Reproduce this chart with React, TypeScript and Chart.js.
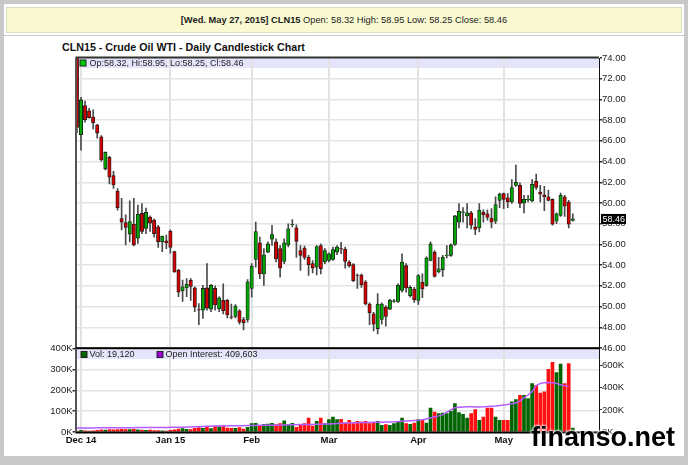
import React, { useEffect, useRef } from 'react';
import { Chart, registerables } from 'chart.js';

Chart.register(...registerables);

const FONT_FAMILY = '"Liberation Sans", Arial, sans-serif';

const lastDateLabel = '[Wed. May 27, 2015]';
const symbol = 'CLN15';
const chartTitle = 'CLN15 - Crude Oil WTI - Daily Candlestick Chart';
const watermark = 'finanso.net';

// month start positions (trading-day index) and their labels
const monthTickIndex = [1, 23, 43, 62, 84, 105];
const monthTickLabels = ['Dec 14', 'Jan 15', 'Feb', 'Mar', 'Apr', 'May'];
const priceTicks = [46, 48, 50, 52, 54, 56, 58, 60, 62, 64, 66, 68, 70, 72, 74];
const volumeTicksK = [0, 100, 200, 300, 400];
const oiTicksK = [0, 200, 400, 600];

const X_MIN = -0.1;
const X_MAX = 128.45;
const PRICE_MIN = 46;
const PRICE_MAX = 74;
const VOL_MAX_K = 400;
const OI_MAX_K = 756;

// Nov 28 2014 .. May 27 2015 daily OHLC
const opens = [
  75.60, 66.60, 69.40, 68.90, 68.30, 67.55, 66.40, 63.30, 64.40, 62.65,
  61.15, 58.50, 58.10, 57.00, 57.95, 56.60, 59.00, 57.55, 58.65, 58.35,
  57.70, 56.25, 56.35, 57.30, 55.30, 53.50, 51.50, 51.80, 52.55, 51.80,
  49.70, 49.65, 51.80, 49.75, 51.75, 49.80, 50.60, 50.60, 49.00, 49.05,
  49.60, 48.75, 48.75, 51.75, 54.55, 56.15, 53.15, 55.25, 56.50, 56.25,
  55.60, 54.35, 55.95, 57.90, 57.60, 55.40, 55.65, 54.75, 54.15, 53.80,
  55.90, 54.30, 54.45, 54.55, 55.25, 55.60, 55.55, 54.30, 54.05, 53.05,
  53.05, 52.40, 50.25, 49.30, 47.85, 48.75, 49.95, 49.75, 50.50, 50.50,
  51.55, 53.95, 51.05, 51.70, 50.60, 52.35, 52.05, 54.45, 55.25, 53.35,
  53.55, 54.90, 54.95, 56.00, 58.15, 59.10, 58.75, 59.05, 57.70, 57.60,
  59.10, 58.95, 58.55, 58.25, 60.25, 60.90, 60.50, 60.10, 61.70, 61.70,
  60.00, 60.30, 60.20, 62.10, 61.05, 60.80, 60.60, 60.35, 58.25, 58.80,
  60.60, 60.10, 58.32,
];
const highs = [
  75.80, 70.20, 69.85, 69.15, 69.00, 67.60, 66.50, 64.95, 64.50, 63.05,
  61.40, 60.45, 58.85, 60.20, 60.45, 59.80, 59.95, 59.50, 58.75, 58.45,
  57.85, 56.80, 56.90, 57.40, 55.35, 53.60, 52.55, 52.70, 52.70, 51.90,
  50.30, 52.05, 54.15, 52.15, 52.00, 50.95, 52.20, 50.70, 50.25, 50.20,
  49.70, 48.95, 52.60, 54.15, 58.15, 56.70, 55.60, 56.25, 57.85, 56.55,
  55.90, 56.55, 58.00, 58.40, 57.90, 55.90, 55.85, 54.95, 54.45, 55.90,
  56.05, 55.60, 55.20, 55.75, 55.90, 56.20, 55.75, 54.45, 54.15, 53.15,
  53.15, 52.50, 50.35, 49.45, 51.25, 50.35, 50.10, 50.70, 50.70, 52.20,
  55.10, 54.15, 52.00, 51.85, 53.10, 53.15, 54.80, 56.25, 55.40, 54.75,
  54.95, 55.90, 56.05, 58.80, 59.95, 59.55, 59.95, 59.20, 58.50, 59.95,
  59.35, 59.35, 59.45, 60.60, 60.95, 60.95, 60.90, 62.25, 63.65, 61.95,
  60.75, 60.75, 62.25, 62.80, 61.70, 61.60, 61.25, 60.40, 59.05, 60.95,
  60.75, 60.25, 58.95,
];
const lows = [
  66.80, 65.10, 67.80, 68.20, 67.15, 66.25, 64.05, 63.20, 61.85, 61.40,
  59.30, 57.40, 55.95, 56.25, 55.85, 56.10, 57.05, 57.05, 57.25, 56.70,
  55.70, 55.30, 55.60, 55.15, 53.30, 50.95, 50.50, 50.95, 50.60, 49.50,
  48.25, 48.85, 49.65, 49.50, 49.65, 49.50, 49.30, 48.90, 48.80, 48.90,
  48.30, 47.75, 48.50, 50.90, 53.80, 52.70, 52.05, 55.20, 55.90, 54.30,
  52.85, 54.15, 55.75, 57.70, 54.75, 53.50, 54.55, 53.00, 53.25, 53.05,
  53.15, 54.15, 54.30, 54.45, 55.00, 55.10, 53.70, 53.80, 52.40, 51.75,
  51.85, 50.15, 48.25, 47.65, 47.35, 48.30, 48.10, 49.70, 50.40, 50.40,
  51.40, 51.40, 50.90, 50.40, 50.20, 50.85, 51.95, 54.40, 52.85, 53.25,
  52.90, 54.70, 54.85, 55.90, 57.60, 58.15, 57.60, 57.50, 56.95, 57.20,
  58.15, 58.35, 57.60, 58.00, 59.55, 59.45, 59.55, 59.95, 61.60, 59.55,
  59.05, 60.10, 60.10, 61.30, 60.10, 59.25, 60.20, 57.85, 58.00, 58.70,
  58.70, 57.60, 58.25,
];
const closes = [
  67.30, 69.95, 68.05, 68.25, 67.75, 66.75, 64.15, 64.90, 62.50, 61.75,
  59.55, 58.15, 57.65, 58.20, 55.95, 58.90, 57.25, 59.10, 58.05, 57.05,
  56.25, 56.80, 56.15, 55.70, 53.35, 51.40, 51.90, 52.15, 51.95, 49.95,
  49.65, 51.75, 49.85, 52.05, 50.15, 50.85, 49.60, 49.20, 48.95, 50.05,
  48.50, 48.45, 52.40, 53.90, 57.25, 53.15, 55.00, 56.05, 56.95, 54.60,
  53.70, 56.15, 57.50, 57.95, 56.30, 54.95, 54.75, 54.05, 53.70, 55.80,
  53.65, 55.40, 55.10, 55.50, 55.75, 55.55, 54.35, 53.95, 52.50, 53.00,
  52.10, 50.25, 49.40, 48.30, 50.25, 50.25, 49.05, 50.60, 50.55, 52.05,
  54.30, 51.80, 51.85, 50.65, 53.00, 51.70, 54.70, 56.05, 52.90, 53.65,
  54.75, 54.95, 55.95, 58.75, 59.20, 59.15, 59.05, 57.85, 57.45, 59.30,
  58.85, 58.60, 58.15, 59.85, 60.85, 60.35, 60.10, 61.50, 62.00, 59.95,
  60.35, 60.35, 61.80, 61.50, 60.85, 60.60, 60.25, 57.95, 58.95, 60.75,
  59.70, 57.95, 58.46,
];
// daily volume, thousands of contracts
const volumeK = [
  5, 8, 6, 5, 6, 8, 10, 9, 11, 10,
  12, 13, 11, 12, 13, 10, 9, 8, 9, 7,
  7, 6, 5, 8, 10, 14, 16, 13, 12, 18,
  21, 17, 24, 16, 28, 26, 29, 19, 17, 18,
  21, 14, 22, 40, 41, 30, 37, 38, 42, 36,
  40, 53, 35, 42, 22, 37, 40, 67, 28, 51,
  67, 40, 59, 72, 60, 61, 43, 56, 40, 51,
  48, 51, 40, 43, 51, 32, 35, 32, 40, 48,
  67, 40, 37, 43, 59, 56, 43, 115, 96, 88,
  91, 88, 99, 136, 93, 85, 67, 88, 107, 56,
  72, 115, 115, 72, 56, 56, 56, 144, 155, 176,
  176, 160, 232, 224, 187, 192, 300, 334, 285, 325,
  232, 328, 19.12,
];
// open interest, thousands of contracts
const openInterestK = [
  36, 36, 37, 37, 37, 38, 38, 38, 38, 39,
  39, 39, 39, 39, 39, 40, 40, 40, 40, 41,
  41, 41, 41, 42, 42, 43, 44, 45, 46, 47,
  48, 50, 51, 52, 54, 55, 55, 56, 56, 57,
  57, 57, 58, 58, 59, 60, 60, 61, 62, 62,
  63, 64, 65, 66, 66, 67, 67, 68, 69, 70,
  71, 72, 73, 75, 77, 80, 81, 82, 83, 84,
  85, 86, 87, 88, 88, 89, 90, 91, 92, 94,
  97, 100, 102, 104, 106, 110, 118, 126, 138, 146,
  155, 180, 200, 220, 225, 227, 228, 228, 227, 227,
  228, 230, 233, 236, 240, 245, 250, 256, 265, 280,
  310, 335, 365, 420, 440, 447, 448, 445, 440, 428,
  420, 409.603, null,
];

Chart.defaults.font.family = FONT_FAMILY;
Chart.defaults.font.size = 9;
Chart.defaults.color = '#222';

const UP_COLOR = '#00a400';
const DOWN_COLOR = '#cc0000';
const VOL_UP = '#006400';
const VOL_DOWN = '#ff1010';
const BAND = '#e4e4fa';

const idx = closes.map((_, i) => i);
const isUp = idx.map((i) => closes[i] >= opens[i]);
const last = closes.length - 1;
const fmtInt = (v: number) => Math.round(v).toLocaleString('en-US');

const monthTicks = (scale: any) => {
  scale.ticks = monthTickIndex.map((v) => ({ value: v }));
};

const mainDecor = {
  id: 'mainDecor',
  beforeDraw(chart: any) {
    const { ctx, chartArea: a } = chart;
    ctx.save();
    ctx.fillStyle = BAND;
    ctx.fillRect(a.left, a.top, a.right - a.left, 10);
    ctx.restore();
  },
  afterDatasetsDraw(chart: any) {
    const { ctx, chartArea: a } = chart;
    ctx.save();
    ctx.fillStyle = isUp[last] ? '#00cc00' : '#dd0000';
    ctx.fillRect(a.left + 3.5, a.top + 2, 6, 6);
    ctx.strokeStyle = '#222';
    ctx.lineWidth = 1;
    ctx.strokeRect(a.left + 3.5, a.top + 2, 6, 6);
    ctx.fillStyle = '#222';
    ctx.font = `9px ${FONT_FAMILY}`;
    ctx.textBaseline = 'middle';
    ctx.textAlign = 'left';
    ctx.fillText(
      `Op:${opens[last].toFixed(2)}, Hi:${highs[last].toFixed(2)}, Lo:${lows[last].toFixed(2)}, Cl:${closes[last].toFixed(2)}`,
      a.left + 13,
      a.top + 5.5
    );
    // frame
    ctx.fillStyle = '#333';
    ctx.fillRect(a.left - 1, a.top - 1.5, a.right - a.left + 1, 2);
    ctx.fillStyle = '#555';
    ctx.fillRect(a.left - 1.5, a.top, 2, a.bottom - a.top);
    // last price marker
    const y = chart.scales.y.getPixelForValue(closes[last]);
    ctx.fillStyle = '#000';
    ctx.fillRect(a.right + 2, y - 5, 25, 10);
    ctx.fillStyle = '#fff';
    ctx.fillText(closes[last].toFixed(2), a.right + 3.5, y + 0.5);
    ctx.restore();
  },
};

const volDecor = {
  id: 'volDecor',
  beforeDraw(chart: any) {
    const { ctx, chartArea: a } = chart;
    ctx.save();
    ctx.fillStyle = BAND;
    ctx.fillRect(a.left, a.top + 0.5, a.right - a.left, 10);
    ctx.restore();
  },
  afterDraw(chart: any) {
    const { ctx, chartArea: a } = chart;
    ctx.save();
    ctx.fillStyle = '#000';
    ctx.fillRect(a.left - 1, a.top - 1.3, a.right - a.left + 1, 2);
    ctx.fillRect(a.left - 1, a.bottom - 0.5, a.right - a.left + 1, 2);
    ctx.fillStyle = '#555';
    ctx.fillRect(a.left - 1.5, a.top, 2, a.bottom - a.top);
    // legend
    ctx.font = `9px ${FONT_FAMILY}`;
    ctx.textBaseline = 'middle';
    ctx.textAlign = 'left';
    ctx.strokeStyle = '#222';
    ctx.lineWidth = 1;
    ctx.fillStyle = VOL_UP;
    ctx.fillRect(a.left + 4.5, a.top + 3, 6, 6);
    ctx.strokeRect(a.left + 4.5, a.top + 3, 6, 6);
    ctx.fillStyle = '#222';
    ctx.fillText(`Vol: ${fmtInt(volumeK[last] * 1000)}`, a.left + 13, a.top + 6);
    ctx.fillStyle = '#9a00d0';
    ctx.fillRect(a.left + 80.5, a.top + 3, 6, 6);
    ctx.strokeRect(a.left + 80.5, a.top + 3, 6, 6);
    ctx.fillStyle = '#222';
    const oiLast = openInterestK[last - 1] as number;
    ctx.fillText(`Open Interest: ${fmtInt(oiLast * 1000)}`, a.left + 89, a.top + 6);
    ctx.restore();
  },
};

export default function App() {
  const mainRef = useRef<HTMLCanvasElement>(null);
  const volRef = useRef<HTMLCanvasElement>(null);

  useEffect(() => {
    const main = new Chart(mainRef.current as HTMLCanvasElement, {
      type: 'bar',
      data: {
        datasets: [
          {
            label: 'body',
            data: idx.map((i) => ({ x: i, y: [opens[i], closes[i]] })) as any,
            backgroundColor: isUp.map((u) => (u ? UP_COLOR : DOWN_COLOR)),
            borderColor: '#1a1a1a',
            borderWidth: 0.8,
            borderSkipped: false,
            barThickness: 3.4,
            grouped: false,
            order: 0,
          } as any,
          {
            label: 'wick',
            data: idx.map((i) => ({ x: i, y: [lows[i], highs[i]] })) as any,
            backgroundColor: '#4a4a4a',
            borderWidth: 0,
            barThickness: 1,
            grouped: false,
            order: 1,
          } as any,
        ],
      },
      options: {
        animation: false,
        responsive: false,
        maintainAspectRatio: false,
        layout: { padding: { left: 76.5, top: 58, right: 49, bottom: 117 } },
        plugins: { legend: { display: false }, tooltip: { enabled: false } },
        scales: {
          x: {
            type: 'linear',
            min: X_MIN,
            max: X_MAX,
            offset: false,
            afterBuildTicks: monthTicks,
            afterFit: (s: any) => {
              s.height = 0;
            },
            ticks: { display: false },
            grid: { color: '#e2e2e2', lineWidth: 2, drawTicks: false, offset: false },
            border: { display: false },
          },
          y: {
            position: 'right',
            min: PRICE_MIN,
            max: PRICE_MAX,
            afterBuildTicks: (s: any) => {
              s.ticks = priceTicks.map((v) => ({ value: v }));
            },
            afterFit: (s: any) => {
              s.width = 40;
            },
            ticks: {
              callback: (v: any) => Number(v).toFixed(2),
              color: '#222',
              padding: 0,
              font: { size: 9.5 },
            },
            grid: { color: '#e4e4e4', lineWidth: 1.5, tickLength: 3, tickColor: '#333' },
            border: { display: true, color: '#111', width: 1 },
          },
        },
      } as any,
      plugins: [mainDecor],
    });

    const vol = new Chart(volRef.current as HTMLCanvasElement, {
      type: 'bar',
      data: {
        datasets: [
          {
            type: 'line',
            label: 'Open Interest',
            data: idx.map((i) => ({
              x: i,
              y: openInterestK[i] == null ? null : (openInterestK[i] as number) * 1000,
            })) as any,
            yAxisID: 'yoi',
            borderColor: '#b35cff',
            borderWidth: 1.5,
            pointRadius: 0,
            tension: 0,
            order: 0,
          } as any,
          {
            type: 'bar',
            label: 'Vol',
            data: idx.map((i) => ({ x: i, y: volumeK[i] * 1000 })) as any,
            yAxisID: 'yv',
            backgroundColor: isUp.map((u) => (u ? VOL_UP : VOL_DOWN)),
            borderWidth: 0,
            barThickness: 3,
            grouped: false,
            order: 1,
          } as any,
        ],
      },
      options: {
        animation: false,
        responsive: false,
        maintainAspectRatio: false,
        layout: { padding: { left: 31.5, top: 348.5, right: 49, bottom: 13 } },
        plugins: { legend: { display: false }, tooltip: { enabled: false } },
        scales: {
          x: {
            type: 'linear',
            min: X_MIN,
            max: X_MAX,
            offset: false,
            afterBuildTicks: monthTicks,
            afterFit: (s: any) => {
              s.height = 20;
            },
            ticks: {
              callback: (_v: any, i: number) => monthTickLabels[i],
              font: { weight: 'bold', size: 9.5 },
              color: '#111',
              padding: 3,
              autoSkip: false,
              maxRotation: 0,
            },
            grid: { color: '#e2e2e2', lineWidth: 2, drawTicks: false, offset: false },
            border: { display: false },
          },
          yv: {
            position: 'left',
            min: 0,
            max: VOL_MAX_K * 1000,
            afterBuildTicks: (s: any) => {
              s.ticks = volumeTicksK.map((v) => ({ value: v * 1000 }));
            },
            afterFit: (s: any) => {
              s.width = 45;
            },
            ticks: { callback: (v: any) => `${Number(v) / 1000}K`, color: '#222', padding: 0, font: { size: 9.5 } },
            grid: { color: '#e4e4e4', lineWidth: 1.5, tickLength: 4, tickColor: '#333' },
            border: { display: false },
          },
          yoi: {
            position: 'right',
            min: 0,
            max: OI_MAX_K * 1000,
            afterBuildTicks: (s: any) => {
              s.ticks = oiTicksK.map((v) => ({ value: v * 1000 }));
            },
            afterFit: (s: any) => {
              s.width = 40;
            },
            ticks: { callback: (v: any) => `${Number(v) / 1000}K`, color: '#222', padding: 0, font: { size: 9.5 } },
            grid: { drawOnChartArea: false, tickLength: 3, tickColor: '#333' },
            border: { display: true, color: '#111', width: 1 },
          },
        },
      } as any,
      plugins: [volDecor],
    });

    return () => {
      main.destroy();
      vol.destroy();
    };
  }, []);

  const font = FONT_FAMILY;
  return (
    <div
      style={{
        position: 'absolute',
        left: 0,
        top: 0,
        width: 688,
        height: 465,
        background: '#c9c9c9',
        overflow: 'hidden',
        fontFamily: font,
      }}
    >
      <div style={{ position: 'absolute', left: 4, top: 4, width: 680, height: 31, background: '#fff' }} />
      <div style={{ position: 'absolute', left: 4, top: 36, width: 680, height: 420, background: '#fff' }} />
      <div
        style={{
          position: 'absolute',
          left: 6,
          top: 7,
          width: 676,
          height: 26,
          boxSizing: 'border-box',
          background: '#fafad2',
          border: '1px solid #dcdcb8',
          display: 'flex',
          alignItems: 'center',
          justifyContent: 'center',
          fontSize: 9.3,
          color: '#222',
          whiteSpace: 'pre',
        }}
      >
        <b>{`${lastDateLabel} ${symbol}`}</b>
        <span>{` Open: ${opens[last].toFixed(2)} High: ${highs[last].toFixed(2)} Low: ${lows[last].toFixed(2)} Close: ${closes[last].toFixed(2)}`}</span>
      </div>
      <div
        style={{
          position: 'absolute',
          left: 62,
          top: 40,
          fontSize: 10.7,
          lineHeight: '14px',
          fontWeight: 'bold',
          color: '#111',
          whiteSpace: 'pre',
        }}
      >
        {chartTitle}
      </div>
      <canvas ref={mainRef} width={688} height={465} style={{ position: 'absolute', left: 0, top: 0 }} />
      <canvas ref={volRef} width={688} height={465} style={{ position: 'absolute', left: 0, top: 0 }} />
      <div
        style={{
          position: 'absolute',
          left: 531,
          top: 424,
          fontFamily: '"Liberation Sans", Arial, sans-serif',
          fontWeight: 'bold',
          fontSize: 27,
          lineHeight: '27px',
          color: '#000',
          whiteSpace: 'pre',
          textShadow: '0 0 3px #fff, 0 0 3px #fff, 0 0 2px #fff',
        }}
      >
        {watermark}
      </div>
    </div>
  );
}
